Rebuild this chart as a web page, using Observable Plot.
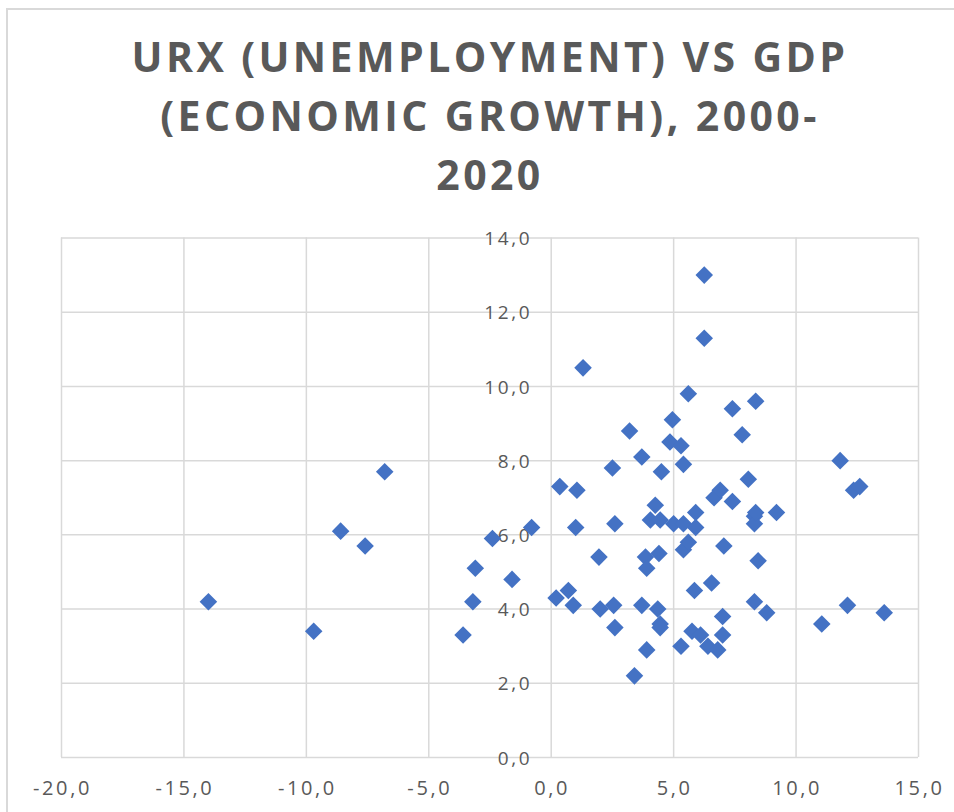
<!DOCTYPE html>
<html>
<head>
<meta charset="utf-8">
<script src="https://cdn.jsdelivr.net/npm/d3@7"></script>
<script src="https://cdn.jsdelivr.net/npm/@observablehq/plot@0.6"></script>
<style>
  body { margin: 0; background: #fff; }
  #wrap { position: relative; width: 954px; height: 812px; overflow: hidden; }
  #border { position: absolute; left: 6px; top: 8px; width: 1000px; height: 900px; border: 2px solid #d9d9d9; box-sizing: border-box; }
  #chart { position: absolute; left: 0; top: 0; }
  #title { position: absolute; left: 3px; top: 27px; width: 974px; text-align: center; font-family: "Open Sans", sans-serif; font-weight: 700; font-size: 41px; line-height: 59px; color: #595959; letter-spacing: 3.4px; }
  #title div { white-space: nowrap; }
</style>
</head>
<body>
<div id="wrap">
  <div id="border"></div>
  <div id="chart"></div>
  <div id="title">
    <div>URX (UNEMPLOYMENT) VS GDP</div>
    <div>(ECONOMIC GROWTH), 2000-</div>
    <div>2020</div>
  </div>
</div>
<script>
// GDP growth (x) and unemployment rate URX (y)
const gdp = [
  -14.0, -9.7, -8.6, -7.6, -6.8, -3.6, -3.2, -3.1, -2.4, -1.6,
  -0.8, 0.2, 0.35, 0.7, 0.9, 1.0, 1.05, 1.3, 1.95, 2.0,
  2.5, 2.55, 2.6, 2.6, 3.2, 3.4, 3.7, 3.7, 3.85, 3.9,
  3.9, 4.05, 4.25, 4.35, 4.4, 4.45, 4.45, 4.45, 4.5, 4.85,
  4.95, 5.0, 5.3, 5.3, 5.4, 5.4, 5.4, 5.6, 5.6, 5.75,
  5.85, 5.9, 5.9, 6.1, 6.25, 6.25, 6.4, 6.55, 6.65, 6.8,
  6.9, 7.0, 7.0, 7.05, 7.4, 7.4, 7.8, 8.05, 8.3, 8.3,
  8.3, 8.35, 8.35, 8.45, 8.8, 9.2, 11.05, 11.8, 12.1, 12.35,
  12.6, 13.6
];
const urx = [
  4.2, 3.4, 6.1, 5.7, 7.7, 3.3, 4.2, 5.1, 5.9, 4.8,
  6.2, 4.3, 7.3, 4.5, 4.1, 6.2, 7.2, 10.5, 5.4, 4.0,
  7.8, 4.1, 3.5, 6.3, 8.8, 2.2, 8.1, 4.1, 5.4, 5.1,
  2.9, 6.4, 6.8, 4.0, 5.5, 6.4, 3.6, 3.5, 7.7, 8.5,
  9.1, 6.3, 8.4, 3.0, 7.9, 6.3, 5.6, 9.8, 5.8, 3.4,
  4.5, 6.6, 6.2, 3.3, 13.0, 11.3, 3.0, 4.7, 7.0, 2.9,
  7.2, 3.8, 3.3, 5.7, 9.4, 6.9, 8.7, 7.5, 6.5, 6.3,
  4.2, 6.6, 9.6, 5.3, 3.9, 6.6, 3.6, 8.0, 4.1, 7.2,
  7.3, 3.9
];
const xTicks = [-20, -15, -10, -5, 0, 5, 10, 15];
const yTicks = [0, 2, 4, 6, 8, 10, 12, 14];

const data = gdp.map((g, i) => ({gdp: g, urx: urx[i]}));
const fmt = d => d.toFixed(1).replace(".", ",");

const chart = Plot.plot({
  width: 954,
  height: 812,
  marginLeft: 61,
  marginRight: 36,
  marginTop: 237.5,
  marginBottom: 55,
  x: {domain: [-20, 15]},
  y: {domain: [0, 14]},
  style: {fontFamily: "'Open Sans', sans-serif", color: "#595959", background: "transparent", letterSpacing: "2.6px"},
  marks: [
    Plot.gridX({ticks: xTicks, stroke: "#d9d9d9", strokeOpacity: 1, strokeWidth: 1.5}),
    Plot.gridY({ticks: yTicks, stroke: "#d9d9d9", strokeOpacity: 1, strokeWidth: 1.5}),
    Plot.axisX({ticks: xTicks, tickSize: 0, tickPadding: 23, tickFormat: fmt, fontSize: 20, label: null, fill: "#595959", dx: 1}),
    Plot.axisY({ticks: [], label: null}),
    Plot.text(yTicks, {x: () => 0, y: d => d, text: fmt, textAnchor: "end", dx: -19, dy: 1, fontSize: 19, fill: "#595959"}),
    Plot.dot(data, {x: "gdp", y: "urx", symbol: "square", rotate: 45, r: 7, fill: "#4472C4", stroke: "none"})
  ]
});
document.getElementById("chart").appendChild(chart);
</script>
</body>
</html>
